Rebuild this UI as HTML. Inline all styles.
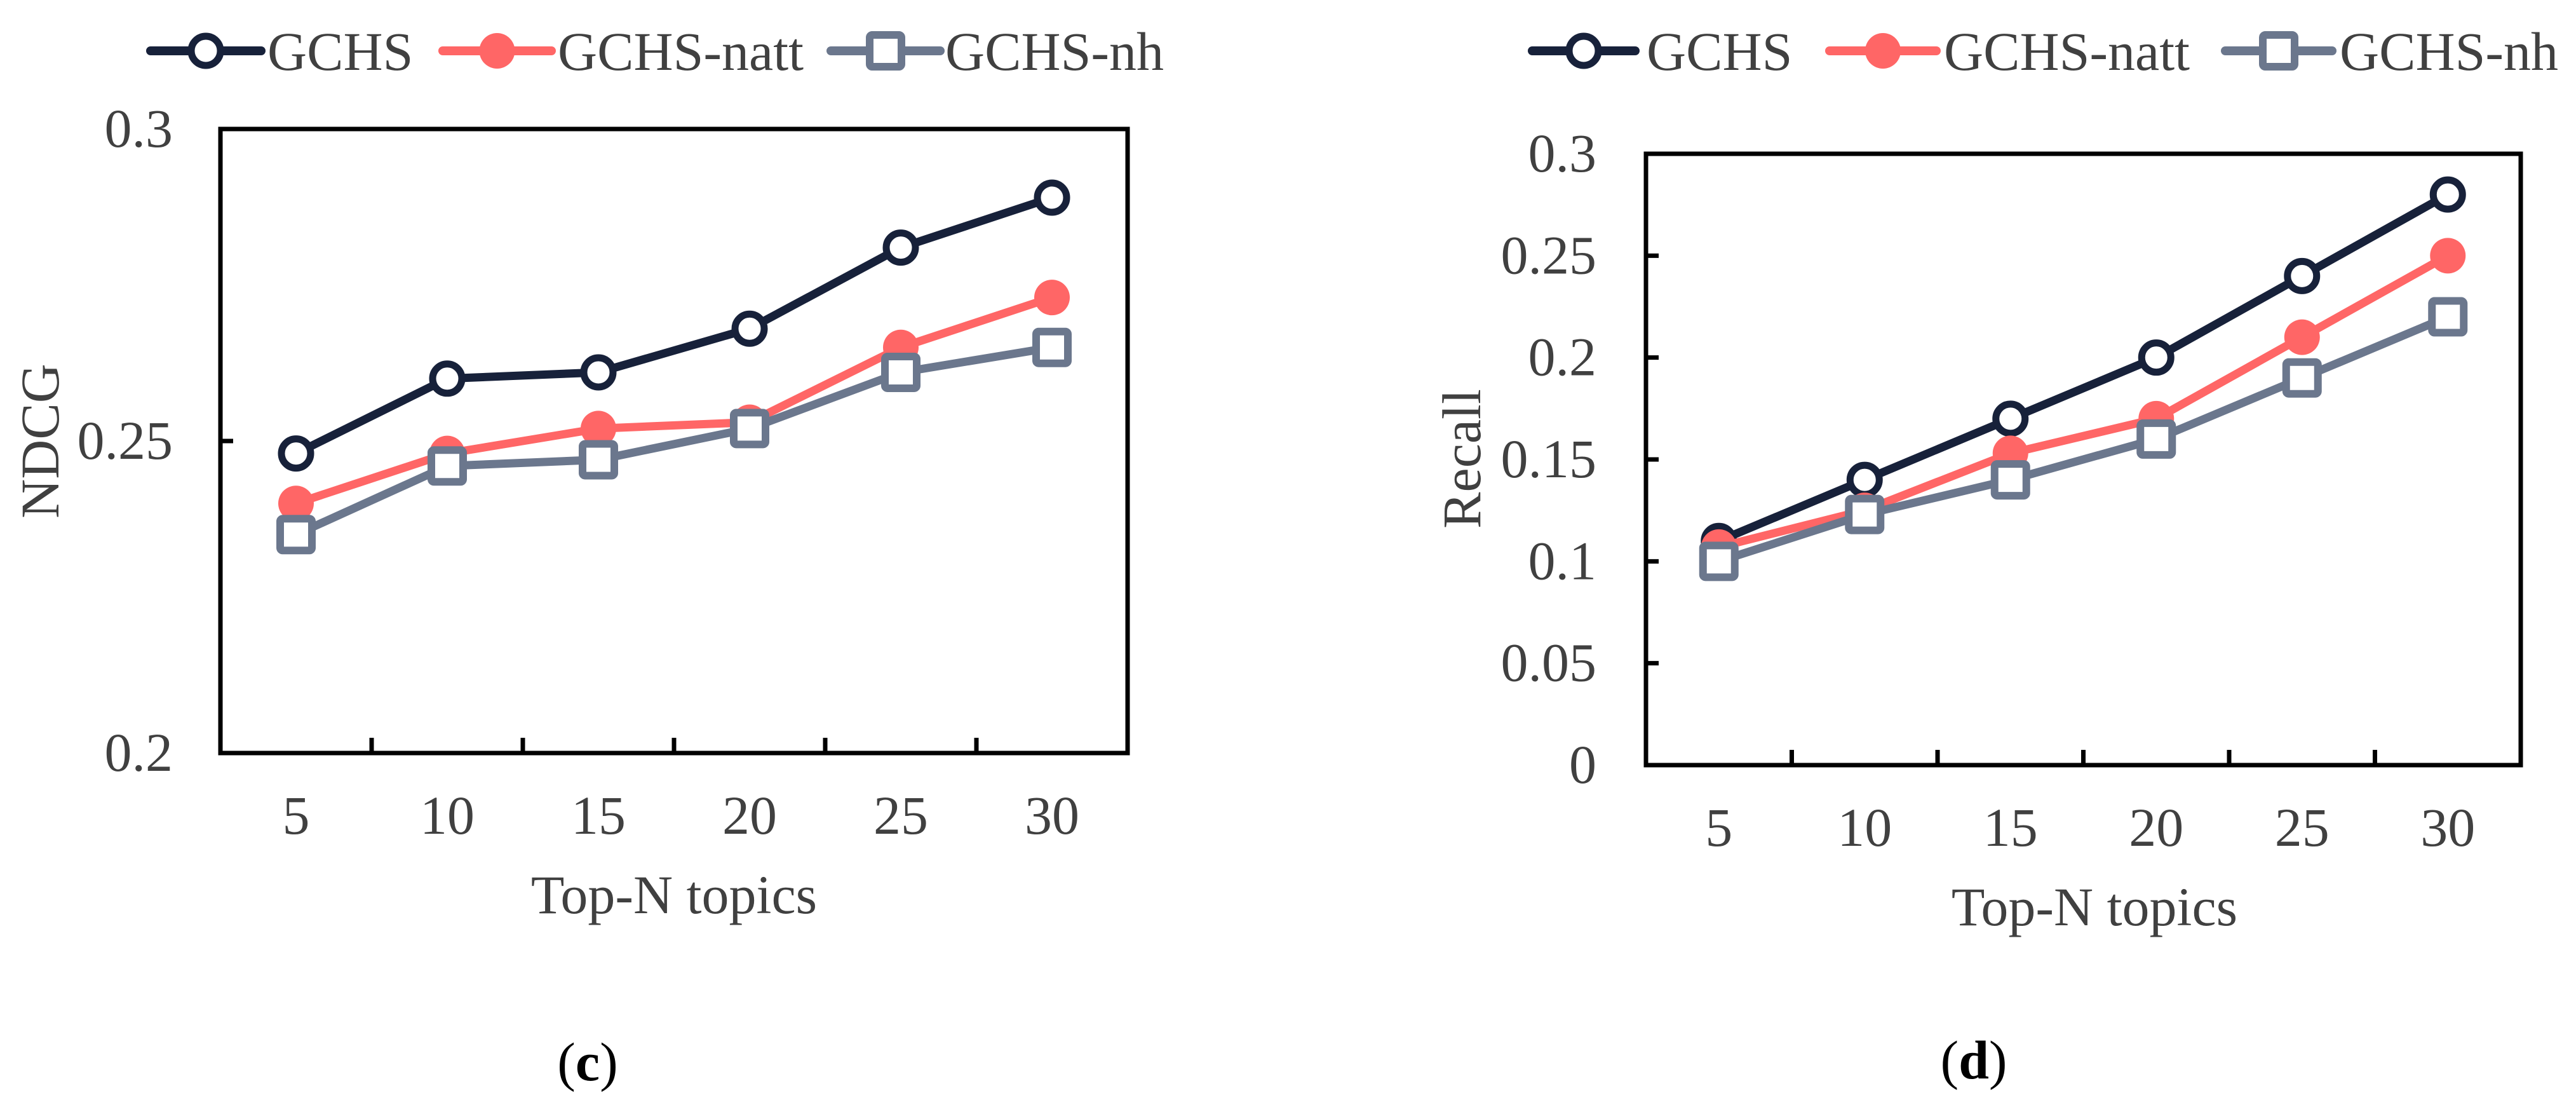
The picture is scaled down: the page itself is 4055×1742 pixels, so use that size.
<!DOCTYPE html>
<html><head><meta charset="utf-8"><style>
html,body{margin:0;padding:0;background:#fff;}
svg{display:block;font-family:"Liberation Serif",serif;}
</style></head><body>
<svg id="chart" width="4055" height="1742" viewBox="0 0 4055 1742" xmlns="http://www.w3.org/2000/svg"></svg>
<script>
const categories = ["5","10","15","20","25","30"];
const seriesNames = ["GCHS","GCHS-natt","GCHS-nh"];
const ndcgGCHS = [0.248,0.260,0.261,0.268,0.281,0.289];
const ndcgNatt = [0.240,0.248,0.252,0.253,0.265,0.273];
const ndcgNh   = [0.235,0.246,0.247,0.252,0.261,0.265];
const recallGCHS = [0.11,0.14,0.17,0.20,0.24,0.28];
const recallNatt = [0.107,0.125,0.153,0.170,0.210,0.250];
const recallNh   = [0.100,0.123,0.140,0.160,0.190,0.220];
const ndcgTicks = ["0.2","0.25","0.3"];
const recallTicks = ["0","0.05","0.1","0.15","0.2","0.25","0.3"];

const NS="http://www.w3.org/2000/svg";
const svg=document.getElementById('chart');
const colors=["#17213a","#ff6666","#6b778d"];
const TXT="#404040";
function mk(tag,attrs,parent){const e=document.createElementNS(NS,tag);for(const k in attrs)e.setAttribute(k,attrs[k]);(parent||svg).appendChild(e);return e;}

function marker(g,type,x,y,c){
  let m;
  if(type===0){m=mk('circle',{cx:x,cy:y,r:23,fill:'#fff',stroke:c,'stroke-width':11},g);}
  else if(type===1){m=mk('circle',{cx:x,cy:y,r:28,fill:c},g);}
  else {m=mk('rect',{x:x-25,y:y-25,width:50,height:50,rx:4,fill:'#fff',stroke:c,'stroke-width':12},g);}
  return m;
}

function legend(items){
  items.forEach((it,i)=>{
    const g=mk('g',{});
    
    
    mk('line',{x1:it[0],y1:80,x2:it[1],y2:80,stroke:colors[i],'stroke-width':14,'stroke-linecap':'round'},g);
    marker(g,i,(it[0]+it[1])/2,80,colors[i]);
    const t=mk('text',{x:it[2],y:110,'font-size':86,fill:TXT},g);
    t.textContent=seriesNames[i];
  });
}

function chart(cfg){
  const {L,R,T,B,ymin,ymax,ticks,series,yTitle,ytx,yty,xtx,xty,lab,labx,laby,tickLabelRight,name,innerYTicks}=cfg;
  const root=mk('g',{});
  
  
  const n=categories.length, bw=(R-L)/n;
  const xs=i=>L+bw*(i+0.5);
  const ys=v=>B-(v-ymin)/(ymax-ymin)*(B-T);
  const frame=mk('rect',{x:L,y:T,width:R-L,height:B-T,fill:'none',stroke:'#000','stroke-width':7},root);
  
  
  // x ticks
  for(let i=1;i<n;i++){mk('line',{x1:L+bw*i,y1:B,x2:L+bw*i,y2:B-24,stroke:'#000','stroke-width':7},root);}
  // y ticks + labels
  ticks.forEach(tl=>{
    const v=parseFloat(tl), y=ys(v);
    if(innerYTicks && v>ymin && v<ymax) mk('line',{x1:L,y1:y,x2:L+20,y2:y,stroke:'#000','stroke-width':7},root);
    const t=mk('text',{x:tickLabelRight,y:y+28,'text-anchor':'end','font-size':86,fill:TXT},root);
    
    
    t.textContent=tl;
  });
  categories.forEach((c,i)=>{
    const t=mk('text',{x:xs(i),y:xty,'text-anchor':'middle','font-size':86,fill:TXT},root);
    
    
    t.textContent=c;
  });
  const xt=mk('text',{x:xtx,y:xty+125,'text-anchor':'middle','font-size':86,fill:TXT},root);
  
  
  xt.textContent='Top-N topics';
  const yt=mk('text',{x:0,y:0,'text-anchor':'middle','font-size':86,fill:TXT,transform:`translate(${ytx+28},${yty}) rotate(-90)`},root);
  
  
  yt.textContent=yTitle;
  const pl=mk('text',{x:labx,y:laby,'text-anchor':'middle','font-size':86,fill:'#000'},root);
  
  
  const t1=mk('tspan',{},pl);t1.textContent='(';
  const t2=mk('tspan',{'font-weight':'bold'},pl);t2.textContent=lab;
  const t3=mk('tspan',{},pl);t3.textContent=')';
  series.forEach((vals,si)=>{
    const g=mk('g',{},root);
    
    
    const pts=vals.map((v,i)=>xs(i)+','+ys(v)).join(' ');
    const pl2=mk('polyline',{points:pts,fill:'none',stroke:colors[si],'stroke-width':13,'stroke-linejoin':'round'},g);
    
    
    vals.forEach((v,i)=>{
      const m=marker(g,si,xs(i),ys(v),colors[si]);
      
      
    });
  });
}

legend([[237,411,421],[697,868,878],[1308,1480,1488]]);
legend([[2412,2574,2592],[2880,3048,3060],[3503,3671,3683]]);

chart({name:'ndcg-chart',L:347,R:1775,T:203,B:1185,ymin:0.2,ymax:0.3,ticks:ndcgTicks,
  series:[ndcgGCHS,ndcgNatt,ndcgNh],yTitle:'NDCG',ytx:64,yty:694,xtx:1061,xty:1312,
  lab:'c',labx:925,laby:1700,tickLabelRight:272,innerYTicks:true});
chart({name:'recall-chart',L:2591,R:3968,T:242,B:1204,ymin:0,ymax:0.3,ticks:recallTicks,
  series:[recallGCHS,recallNatt,recallNh],yTitle:'Recall',ytx:2302,yty:722,xtx:3297,xty:1331,
  lab:'d',labx:3107,laby:1697,tickLabelRight:2513,innerYTicks:true});
</script>
</body></html>
